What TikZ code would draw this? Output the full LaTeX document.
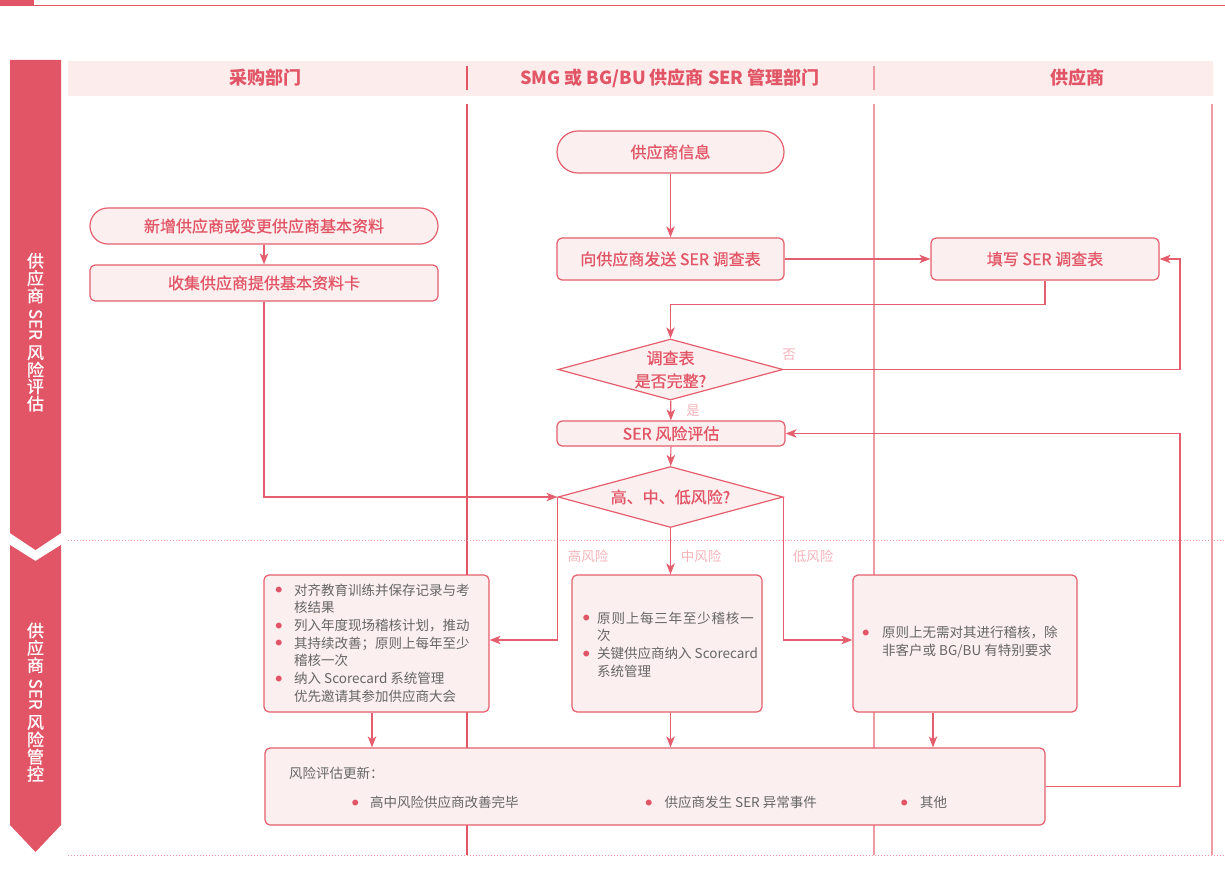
\documentclass[tikz,border=0pt]{standalone}
\usepackage{fontspec}
\setmainfont{Noto Sans CJK SC}
\newfontfamily\medfont[FakeBold=0.8]{Noto Sans CJK SC}
\usepackage{graphicx}
\usetikzlibrary{shapes.geometric,arrows.meta}
\definecolor{rmain}{HTML}{E25566}
\definecolor{rline}{HTML}{E45E6D}
\definecolor{rlight}{HTML}{F09BA4}
\definecolor{boxfill}{HTML}{FCEFEF}
\definecolor{hdrfill}{HTML}{FCECEC}
\definecolor{txtgray}{HTML}{666666}
\definecolor{lblpink}{HTML}{F4B3B9}
\newcommand\vch[1]{\rotatebox{90}{#1}\kern1.6pt}
\newcommand\bl[1]{\makebox[#1][l]{\raisebox{2.4pt}{\fontsize{6.5}{6.5}\selectfont\textcolor{rmain}{●}}}}
\newcommand\nb[1]{\hspace*{#1}}
\begin{document}
\begin{tikzpicture}[x=1pt,y=-1pt,
  flowbox/.style={draw=rline, fill=boxfill, line width=1.2pt, rounded corners=5pt, inner sep=0pt, text=rmain, font=\medfont\fontsize{16}{18}\selectfont},
  bulbox/.style={draw=rline, fill=boxfill, line width=1.2pt, rounded corners=5pt, inner sep=0pt},
  dia/.style={diamond, draw=rline, fill=boxfill, line width=1.2pt, inner sep=0pt, minimum width=225pt, minimum height=61pt},
  dtxt/.style={text=rmain, font=\medfont\fontsize{16}{23}\selectfont, align=center, inner sep=0pt},
  btxt/.style={text=txtgray, font=\fontsize{13.5}{17.7}\selectfont, align=left, inner sep=0pt, anchor=west},
  hdr/.style={text=rmain, font=\bfseries\fontsize{18}{18}\selectfont, inner sep=0pt},
  sidetxt/.style={text=white, font=\medfont\fontsize{17}{17}\selectfont, inner sep=0pt},
  lbl/.style={text=lblpink, font=\fontsize{13.5}{13.5}\selectfont, inner sep=0pt},
  arr/.style={draw=rline, line width=1.2pt, -{Stealth[length=11pt,width=8.5pt,inset=3pt]}},
  lane/.style={line width=1.1pt}
]
\useasboundingbox (0,0) rectangle (1225,885);
% top rule
\fill[rmain] (0,0) rectangle (34,6);
\draw[rmain, line width=1.6pt] (34,5.5) -- (1225,5.5);
% side bars
\fill[rmain] (10,60) -- (61,60) -- (61,533) -- (35.5,550) -- (10,533) -- cycle;
\fill[rmain] (10,545) -- (35.5,561) -- (61,545) -- (61,825) -- (35.5,852) -- (10,825) -- cycle;
\node[sidetxt] (side1) at (35.5,333) {\rotatebox{-90}{\vch{供}\vch{应}\vch{商}\kern4pt\raisebox{0.14em}{SER}\kern5.5pt\vch{风}\vch{险}\vch{评}\vch{估}}};
\node[sidetxt] (side2) at (35.5,703) {\rotatebox{-90}{\vch{供}\vch{应}\vch{商}\kern4pt\raisebox{0.14em}{SER}\kern5.5pt\vch{风}\vch{险}\vch{管}\vch{控}}};
% header
\fill[hdrfill] (68,61) rectangle (1213,96);
\node[hdr] (h1) at (265,78) {采购部门};
\node[hdr] (h2) at (670,78) {SMG 或 BG/BU 供应商 SER 管理部门};
\node[hdr] (h3) at (1077,78) {供应商};
% lanes
\draw[rmain, lane] (467,66) -- (467,90);
\draw[rmain, lane] (467,104) -- (467,855);
\draw[rlight, lane] (874,66) -- (874,90);
\draw[rlight, lane] (874,104) -- (874,855);
\draw[rlight, lane] (1212,104) -- (1212,855);
\draw[rlight, line width=1pt, dash pattern=on 1pt off 2pt] (68,540) -- (1225,540);
\draw[rlight, line width=1pt, dash pattern=on 1pt off 2pt] (68,855) -- (1225,855);
\coordinate (rt) at (1180,0);
% flow nodes
\node[flowbox, minimum width=227pt, minimum height=42pt, rounded corners=20.9pt] (info) at (670.5,152) {供应商信息};
\node[flowbox, minimum width=348pt, minimum height=36pt, rounded corners=17.9pt] (new) at (264,226) {新增供应商或变更供应商基本资料};
\node[flowbox, minimum width=348pt, minimum height=36pt] (collect) at (264,283) {收集供应商提供基本资料卡};
\node[flowbox, minimum width=227pt, minimum height=42pt] (send) at (670.5,259) {向供应商发送 SER 调查表};
\node[flowbox, minimum width=228pt, minimum height=42pt] (fill) at (1045,259) {填写 SER 调查表};
\node[dia] (chk) at (670.5,369.5) {};
\node[dtxt] (chktxt) at (670.5,369.5) {调查表\\是否完整?};
\node[flowbox, minimum width=228pt, minimum height=25pt] (eval) at (671,433.5) {SER 风险评估};
\node[dia] (lvl) at (670.5,497) {};
\node[dtxt] (lvltxt) at (670.5,497) {高、中、低风险?};
% result boxes
\node[bulbox, minimum width=225pt, minimum height=137pt] (high) at (376.5,643.5) {};
\node[bulbox, minimum width=190pt, minimum height=137pt] (mid) at (667,643.5) {};
\node[bulbox, minimum width=224pt, minimum height=137pt] (low) at (965,643.5) {};
\node[bulbox, minimum width=780pt, minimum height=77pt] (upd) at (655,786.5) {};
\node[btxt] (hightxt) at (275.5,643) {\bl{18.5pt}对齐教育训练并保存记录与考\\\nb{18.5pt}核结果\\\bl{18.5pt}列入年度现场稽核计划，推动\\\bl{18.5pt}其持续改善；原则上每年至少\\\nb{18.5pt}稽核一次\\\bl{18.5pt}纳入 Scorecard 系统管理\\\nb{18.5pt}优先邀请其参加供应商大会};
\node[btxt] (midtxt) at (583,644.5) {\bl{14pt}{\addfontfeature{LetterSpace=6}原则上每三年至少稽核一}\\\nb{14pt}次\\\bl{14pt}关键供应商纳入 Scorecard\\\nb{14pt}系统管理};
\node[btxt] (lowtxt) at (862.5,642) {\bl{19.5pt}原则上无需对其进行稽核，除\\\nb{19.5pt}非客户或 BG/BU 有特别要求};
\node[btxt] (updtitle) at (289,773.3) {风险评估更新：};
\node[btxt] (upd1) at (352,802.7) {\bl{18pt}高中风险供应商改善完毕};
\node[btxt] (upd2) at (645.5,802.7) {\bl{19pt}供应商发生 SER 异常事件};
\node[btxt] (upd3) at (901,802.7) {\bl{19pt}其他};
% connectors
\draw[arr] (info) -- (send);
\draw[arr] (new) -- (collect);
\draw[arr] (send) -- (fill);
\draw[arr] (fill.south) -- ++(0,24) -| (chk.north);
\draw[arr] (chk.east) -- (chk.east -| rt) |- (fill.east);
\node[lbl] (no) at (789,355) {否};
\draw[arr] (chk) -- (eval);
\node[lbl] (yes) at (693,411) {是};
\draw[arr] (eval) -- (lvl);
\draw[arr] (collect.south) |- (lvl.west);
\draw[arr] (lvl.west) |- ([yshift=3.5pt]high.east);
\draw[arr] (lvl.south) -- (lvl.south |- mid.north);
\draw[arr] (lvl.east) |- ([yshift=3.5pt]low.west);
\node[lbl] (hl) at (588,556) {高风险};
\node[lbl] (ml) at (701,556) {中风险};
\node[lbl] (ll) at (813,556) {低风险};
\draw[arr] ([xshift=-4.5pt]high.south) -- ([xshift=-4.5pt]high.south |- upd.north);
\draw[arr] (lvl.south |- mid.south) -- (lvl.south |- upd.north);
\draw[arr] ([xshift=-32pt]low.south) -- ([xshift=-32pt]low.south |- upd.north);
\draw[arr] (upd.east) -- (upd.east -| rt) |- (eval.east);
\end{tikzpicture}
\end{document}
